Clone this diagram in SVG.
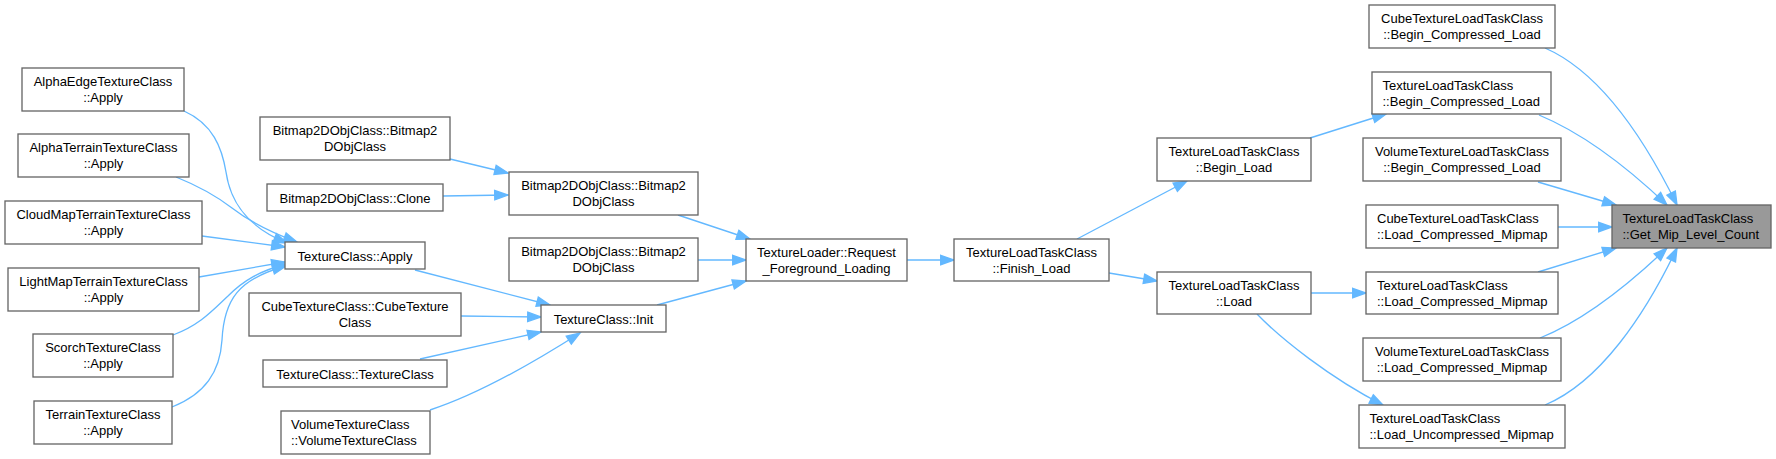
<svg xmlns="http://www.w3.org/2000/svg" width="1776" height="459" viewBox="0 0 1776 459">
<style>
.n rect{fill:#ffffff;stroke:#666666;stroke-width:1.33}
.n.h rect{fill:#999999}
.n text{font-family:"Liberation Sans",Arial,sans-serif;font-size:13px;fill:#000000}
.c{text-anchor:middle}
.e path{fill:none;stroke:#63b8ff;stroke-width:1.33}
</style>
<defs>
<marker id="ah" markerUnits="userSpaceOnUse" markerWidth="15" markerHeight="11" refX="13.3" refY="4.7" orient="auto" overflow="visible">
<path d="M0,0 L13.3,4.7 L0,9.4 Z" fill="#63b8ff" stroke="#63b8ff" stroke-width="1.33"/>
</marker>
</defs>
<rect width="1776" height="459" fill="#ffffff"/>
<g id="edges" class="e">
<path marker-end="url(#ah)" d="M184,111 C213,124 222,148 226,172 C230,200 245,226 287,243"/>
<path marker-end="url(#ah)" d="M176,177 C196,185 215,195 232,208 C250,222 270,232 297,242"/>
<path marker-end="url(#ah)" d="M202,236 L285,247"/>
<path marker-end="url(#ah)" d="M199,277 L285,262"/>
<path marker-end="url(#ah)" d="M173,335 C200,325 213,310 228,296 C244,280 260,271 286,264"/>
<path marker-end="url(#ah)" d="M172,407 C205,394 220,372 222,340 C224,300 238,279 286,266"/>
<path marker-end="url(#ah)" d="M450,159 L508,173"/>
<path marker-end="url(#ah)" d="M443,196 L508,195"/>
<path marker-end="url(#ah)" d="M678,215 L750,239"/>
<path marker-end="url(#ah)" d="M698,260 L746,260"/>
<path marker-end="url(#ah)" d="M415,270 L550,305"/>
<path marker-end="url(#ah)" d="M461,316 L541,317"/>
<path marker-end="url(#ah)" d="M420,359 L541,332"/>
<path marker-end="url(#ah)" d="M430,410 C470,397 525,368 580,333"/>
<path marker-end="url(#ah)" d="M657,305 L746,281"/>
<path marker-end="url(#ah)" d="M907,260 L954,260"/>
<path marker-end="url(#ah)" d="M1077,239 L1187,181"/>
<path marker-end="url(#ah)" d="M1109,273 L1157,281"/>
<path marker-end="url(#ah)" d="M1310,138 L1386,114"/>
<path marker-end="url(#ah)" d="M1311,293 L1366,293"/>
<path marker-end="url(#ah)" d="M1257,314 C1280,338 1330,378 1383,405"/>
<path marker-end="url(#ah)" d="M1545,48 C1600,72 1645,140 1677,205"/>
<path marker-end="url(#ah)" d="M1539,115 C1580,132 1625,165 1667,205"/>
<path marker-end="url(#ah)" d="M1538,182 L1616,205"/>
<path marker-end="url(#ah)" d="M1558,227 L1612,227"/>
<path marker-end="url(#ah)" d="M1538,272 L1616,248"/>
<path marker-end="url(#ah)" d="M1540,338 C1580,322 1625,288 1667,248"/>
<path marker-end="url(#ah)" d="M1545,405 C1600,382 1645,315 1677,248"/>
</g>
<g id="n_alphaedge" class="n"><rect x="22" y="68" width="162" height="43"/><text class="c" x="103" y="86">AlphaEdgeTextureClass</text><text class="c" x="103" y="102">::Apply</text></g>
<g id="n_alphaterrain" class="n"><rect x="18" y="134" width="171" height="43"/><text class="c" x="103.5" y="152">AlphaTerrainTextureClass</text><text class="c" x="103.5" y="168">::Apply</text></g>
<g id="n_cloudmap" class="n"><rect x="5" y="201" width="197" height="43"/><text class="c" x="103.5" y="219">CloudMapTerrainTextureClass</text><text class="c" x="103.5" y="235">::Apply</text></g>
<g id="n_lightmap" class="n"><rect x="8" y="268" width="191" height="43"/><text class="c" x="103.5" y="286">LightMapTerrainTextureClass</text><text class="c" x="103.5" y="302">::Apply</text></g>
<g id="n_scorch" class="n"><rect x="33" y="334" width="140" height="43"/><text class="c" x="103" y="352">ScorchTextureClass</text><text class="c" x="103" y="368">::Apply</text></g>
<g id="n_terrain" class="n"><rect x="34" y="401" width="138" height="43"/><text class="c" x="103" y="419">TerrainTextureClass</text><text class="c" x="103" y="435">::Apply</text></g>
<g id="n_bmp_a" class="n"><rect x="260" y="117" width="190" height="43"/><text class="c" x="355" y="135">Bitmap2DObjClass::Bitmap2</text><text class="c" x="355" y="151">DObjClass</text></g>
<g id="n_clone" class="n"><rect x="267" y="184" width="176" height="27"/><text class="c" x="355" y="202.5">Bitmap2DObjClass::Clone</text></g>
<g id="n_tcapply" class="n"><rect x="285" y="242" width="140" height="27"/><text class="c" x="355" y="260.5">TextureClass::Apply</text></g>
<g id="n_cubetex" class="n"><rect x="249" y="293" width="212" height="43"/><text class="c" x="355" y="311">CubeTextureClass::CubeTexture</text><text class="c" x="355" y="327">Class</text></g>
<g id="n_tctc" class="n"><rect x="263" y="360" width="184" height="27"/><text class="c" x="355" y="378.5">TextureClass::TextureClass</text></g>
<g id="n_voltex" class="n"><rect x="281" y="411" width="149" height="43"/><text x="291" y="429">VolumeTextureClass</text><text x="291" y="445">::VolumeTextureClass</text></g>
<g id="n_bmp_b" class="n"><rect x="509" y="172" width="189" height="43"/><text class="c" x="603.5" y="190">Bitmap2DObjClass::Bitmap2</text><text class="c" x="603.5" y="206">DObjClass</text></g>
<g id="n_bmp_c" class="n"><rect x="509" y="238" width="189" height="43"/><text class="c" x="603.5" y="256">Bitmap2DObjClass::Bitmap2</text><text class="c" x="603.5" y="272">DObjClass</text></g>
<g id="n_init" class="n"><rect x="541" y="305" width="125" height="27"/><text class="c" x="603.5" y="323.5">TextureClass::Init</text></g>
<g id="n_request" class="n"><rect x="746" y="239" width="161" height="42"/><text class="c" x="826.5" y="257">TextureLoader::Request</text><text class="c" x="826.5" y="273">_Foreground_Loading</text></g>
<g id="n_finish" class="n"><rect x="954" y="239" width="155" height="42"/><text class="c" x="1031.5" y="257">TextureLoadTaskClass</text><text class="c" x="1031.5" y="273">::Finish_Load</text></g>
<g id="n_beginload" class="n"><rect x="1157" y="138" width="154" height="43"/><text class="c" x="1234" y="156">TextureLoadTaskClass</text><text class="c" x="1234" y="172">::Begin_Load</text></g>
<g id="n_load" class="n"><rect x="1157" y="272" width="154" height="42"/><text class="c" x="1234" y="290">TextureLoadTaskClass</text><text class="c" x="1234" y="306">::Load</text></g>
<g id="n_cube_bcl" class="n"><rect x="1369" y="5" width="186" height="43"/><text class="c" x="1462" y="23">CubeTextureLoadTaskClass</text><text class="c" x="1462" y="39">::Begin_Compressed_Load</text></g>
<g id="n_tltc_bcl" class="n"><rect x="1372" y="72" width="179" height="42"/><text x="1382.5" y="90">TextureLoadTaskClass</text><text x="1382.5" y="106">::Begin_Compressed_Load</text></g>
<g id="n_vol_bcl" class="n"><rect x="1363" y="138" width="198" height="43"/><text class="c" x="1462" y="156">VolumeTextureLoadTaskClass</text><text class="c" x="1462" y="172">::Begin_Compressed_Load</text></g>
<g id="n_cube_lcm" class="n"><rect x="1366" y="205" width="192" height="43"/><text x="1377" y="223">CubeTextureLoadTaskClass</text><text x="1377" y="239">::Load_Compressed_Mipmap</text></g>
<g id="n_tltc_lcm" class="n"><rect x="1366" y="272" width="192" height="42"/><text x="1377" y="290">TextureLoadTaskClass</text><text x="1377" y="306">::Load_Compressed_Mipmap</text></g>
<g id="n_vol_lcm" class="n"><rect x="1363" y="338" width="198" height="43"/><text class="c" x="1462" y="356">VolumeTextureLoadTaskClass</text><text class="c" x="1462" y="372">::Load_Compressed_Mipmap</text></g>
<g id="n_tltc_lum" class="n"><rect x="1359" y="405" width="206" height="43"/><text x="1369.5" y="423">TextureLoadTaskClass</text><text x="1369.5" y="439">::Load_Uncompressed_Mipmap</text></g>
<g id="n_getmip" class="n h"><rect x="1612" y="205" width="159" height="43"/><text x="1622.5" y="223">TextureLoadTaskClass</text><text x="1622.5" y="239">::Get_Mip_Level_Count</text></g>
</svg>
